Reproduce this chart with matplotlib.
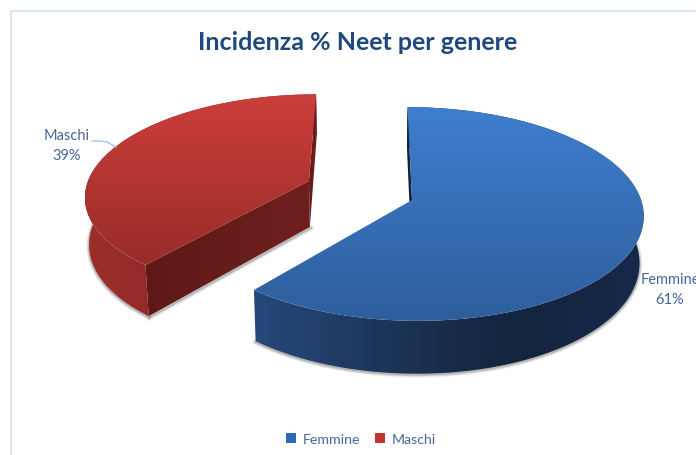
import numpy as np
import matplotlib
matplotlib.use("Agg")
import matplotlib.pyplot as plt
from matplotlib.colors import LinearSegmentedColormap
from matplotlib.patches import Polygon, Patch

categories = ["Femmine", "Maschi"]
shares = [61, 39]
title = "Incidenza % Neet per genere"

# look of each slice: apex in pixels, rim sizes, lean of the back edge
apex = [(412, 201), (309, 182)]
rim_x = [229, 221]
rim_y = [105, 98]
lean = [-5, 8]
top_colors = [("#3f7ecf", "#2e5e9c"), ("#cc3e3a", "#982c29")]
wall_colors = [["#26497b", "#1c3558", "#13243d", "#16294a"], ["#9c2e2b", "#7a2220"]]
face_colors = [("#13243d", "#13243d"), ("#5e1917", "#6f201e")]
visible_faces = [[0], [0, -1]]
legend_colors = ["#2f69b5", "#c0352f"]

persp = 0.131
depth = 46
vanish_x = 365
shrink = 0.985
text_col = "#47679a"
plt.rcParams["font.family"] = ["Lato", "DejaVu Sans"]


def rim(i, theta):
  """ angle (clockwise from 12 o'clock) to pixels, with a bit of perspective """
  u, v = np.sin(theta), np.cos(theta)
  w = 1 + persp * v
  x = apex[i][0] + (rim_x[i] * u + lean[i] * v) / w
  y = apex[i][1] - rim_y[i] * v / w
  return x, y, w


def drop(x, y, w):
  """ same point on the underside of the slice """
  return vanish_x + (x - vanish_x) * shrink, y + depth / w


def gradient(ax, x, y, colors, vertical, z):
  verts = np.column_stack([x, y])
  patch = Polygon(verts, closed=True, fc="none", ec="none", zorder=z)
  ax.add_patch(patch)
  cmap = LinearSegmentedColormap.from_list("g", colors)
  ramp = np.linspace(0, 1, 256)
  ramp = ramp[:, None] if vertical else ramp[None, :]
  im = ax.imshow(ramp, cmap=cmap, aspect="auto", origin="upper", zorder=z,
                 extent=(x.min(), x.max(), y.max(), y.min()), vmin=0, vmax=1)
  im.set_clip_path(patch)


fig = plt.figure(figsize=(6.96, 4.56), dpi=100)
ax = fig.add_axes([0, 0, 1, 1])
ax.axis("off")

edges = np.concatenate([[0], np.cumsum(shares)]) / np.sum(shares) * 2 * np.pi

for i in range(len(shares)):
  theta = np.linspace(edges[i], edges[i + 1], 200)
  x, y, w = rim(i, theta)
  xb, yb = drop(x, y, w)
  ax0, ay0 = apex[i]
  axb, ayb = drop(ax0, ay0, 1.0)

  # soft shadow, only along the underside
  front = np.cos(theta) < 0.35
  for grow, alpha in [(4, 0.10), (2.5, 0.16), (1.2, 0.25)]:
    ax.plot(xb[front], yb[front] + 1, color="#555555", lw=grow, alpha=alpha, zorder=1)
    if i == 1:
      ax.plot([xb[0] + 1, axb + 1], [yb[0] + 1, ayb + 1], color="#555555", lw=grow, alpha=alpha, zorder=1)

  # outer wall
  gradient(ax, np.concatenate([x, xb[::-1]]), np.concatenate([y, yb[::-1]]),
           wall_colors[i], False, 2)

  # the cut faces we can see from here
  for k in visible_faces[i]:
    fx = np.array([ax0, x[k], xb[k], axb])
    fy = np.array([ay0, y[k], yb[k], ayb])
    gradient(ax, fx, fy, face_colors[i], False, 3)

  # top of the slice
  gradient(ax, np.concatenate([[ax0], x]), np.concatenate([[ay0], y]),
           top_colors[i], True, 4)

# chart frame, runs off the right and bottom of the crop
ax.plot([11, 11, 696], [456, 12, 12], color="#d8e5f6", lw=1.5, zorder=0)

ax.set_xlim(0, 696)
ax.set_ylim(456, 0)

ax.text(358, 42, title, ha="center", va="center", fontsize=18, fontweight="bold", color="#1f497d")

# data labels
ax.plot([92, 100, 107, 116], [142, 142, 143, 148], color="#9dc3e6", lw=1, zorder=5)
ax.text(67, 146, "{}\n{}%".format(categories[1], shares[1]), ha="center", va="center",
        fontsize=10.5, color=text_col, linespacing=1.5)
ax.text(670, 290, "{}\n{}%".format(categories[0], shares[0]), ha="center", va="center",
        fontsize=10.5, color=text_col, linespacing=1.5)

handles = [Patch(fc=c, ec="none") for c in legend_colors]
ax.legend(handles, categories, loc="center", bbox_to_anchor=(361 / 696, 1 - 440 / 456), ncol=2,
          frameon=False, fontsize=10.2, labelcolor=text_col, handlelength=0.7, handleheight=0.7,
          handletextpad=0.5, columnspacing=1.0, borderpad=0)

fig.savefig("out.png", dpi=100)
